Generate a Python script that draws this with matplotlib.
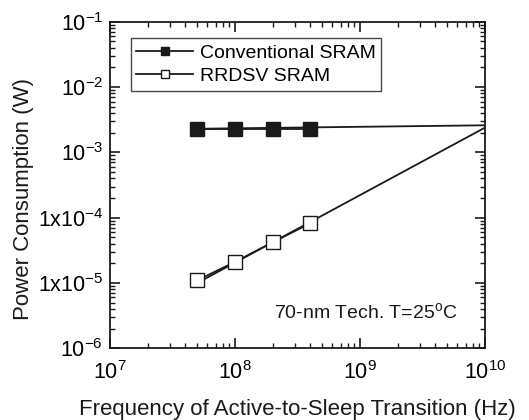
import matplotlib
matplotlib.use("Agg")
import matplotlib.pyplot as plt
from matplotlib.ticker import LogLocator, FixedLocator, FixedFormatter, NullFormatter

plt.rcParams['font.family'] = ['Liberation Sans', 'DejaVu Sans']
plt.rcParams['mathtext.fontset'] = 'custom'
plt.rcParams['mathtext.rm'] = 'Liberation Sans'

# marker data
freq = [5e7, 1e8, 2e8, 4e8]
conv_power = [2.3e-3, 2.3e-3, 2.3e-3, 2.3e-3]
rrdsv_power = [1.1e-5, 2.1e-5, 4.2e-5, 8.2e-5]
# trend lines
freq_line = [5e7, 1e10]
conv_line = [2.3e-3, 2.6e-3]
rrdsv_line = [1.0e-5, 2.4e-3]

ytick_vals = [1e-6, 1e-5, 1e-4, 1e-3, 1e-2, 1e-1]
ytick_labels = [r'$\mathregular{10^{-6}}$', r'$\mathregular{1x10^{-5}}$', r'$\mathregular{1x10^{-4}}$',
                r'$\mathregular{10^{-3}}$', r'$\mathregular{10^{-2}}$', r'$\mathregular{10^{-1}}$']
xtick_vals = [1e7, 1e8, 1e9, 1e10]
xtick_labels = [r'$\mathregular{10^{7}}$', r'$\mathregular{10^{8}}$', r'$\mathregular{10^{9}}$', r'$\mathregular{10^{10}}$']

fig = plt.figure(figsize=(5.29, 4.2), dpi=100)
ax = fig.add_axes([0.208, 0.171, 0.709, 0.777])
ax.set_xscale('log')
ax.set_yscale('log')

ax.plot(freq_line, conv_line, color='#1a1a1a', lw=1.3)
ax.plot(freq_line, rrdsv_line, color='#1a1a1a', lw=1.3)
ax.plot(freq, conv_power, color='#1a1a1a', lw=1.3, marker='s', ms=10,
        mfc='#1a1a1a', mec='#1a1a1a', label='Conventional SRAM')
ax.plot(freq, rrdsv_power, color='#1a1a1a', lw=1.3, marker='s', ms=10,
        mfc='white', mec='#1a1a1a', mew=1.0, label='RRDSV SRAM')

ax.set_xlim(1e7, 1e10)
ax.set_ylim(1e-6, 1e-1)
ax.xaxis.set_major_locator(FixedLocator(xtick_vals))
ax.xaxis.set_major_formatter(FixedFormatter(xtick_labels))
ax.yaxis.set_major_locator(FixedLocator(ytick_vals))
ax.yaxis.set_major_formatter(FixedFormatter(ytick_labels))
ax.xaxis.set_minor_locator(LogLocator(base=10, subs=range(2, 10), numticks=20))
ax.yaxis.set_minor_locator(LogLocator(base=10, subs=range(2, 10), numticks=20))
ax.xaxis.set_minor_formatter(NullFormatter())
ax.yaxis.set_minor_formatter(NullFormatter())
ax.tick_params(which='both', direction='in', top=True, right=True, labelsize=15.5, color='#1a1a1a')
ax.tick_params(which='major', length=7, width=1.2)
ax.tick_params(axis='x', which='major', pad=9)
ax.tick_params(axis='y', which='major', pad=5)
ax.tick_params(which='minor', length=3.5, width=1.0)
for s in ax.spines.values():
    s.set_linewidth(1.3)
    s.set_color('#1a1a1a')

ax.set_xlabel('Frequency of Active-to-Sleep Transition (Hz)', fontsize=16, color='#1a1a1a')
ax.xaxis.set_label_coords(0.50, -0.155)
ax.set_ylabel('Power Consumption (W)', fontsize=16, color='#1a1a1a')
ax.yaxis.set_label_coords(-0.203, 0.457)

ax.text(0.925, 0.11, r'70-nm Tech. T=25$\mathregular{^o}$C', transform=ax.transAxes, ha='right', va='center',
        fontsize=14, color='#1a1a1a')

leg = ax.legend(loc='upper left', bbox_to_anchor=(0.055, 0.95), fontsize=14, frameon=True,
                fancybox=False, edgecolor='#1a1a1a', markerscale=0.6, handlelength=2.9,
                borderpad=0.3, labelspacing=0.3, handletextpad=0.35, borderaxespad=0)
leg.get_frame().set_linewidth(1.0)

fig.savefig('out.png', dpi=100)
